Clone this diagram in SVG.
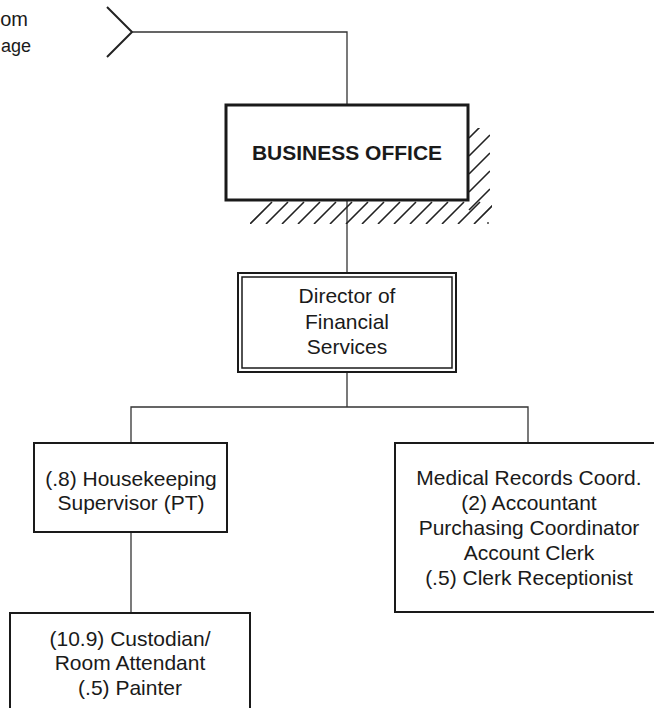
<svg xmlns="http://www.w3.org/2000/svg" width="654" height="708" viewBox="0 0 654 708">
<style>
text{font-family:"Liberation Sans",Arial,sans-serif;font-size:21px;fill:#1a1a1a;text-anchor:middle}
.box{fill:#fff;stroke:#1a1a1a;stroke-width:2}
.conn{fill:none;stroke:#333;stroke-width:1.3}
.hatch{fill:none;stroke:#222;stroke-width:1.6}
</style>
<defs>
<clipPath id="hclip">
<path d="M250,201 H490 V128 H469 V201 Z M250,201 V224 H492 V201 Z"/>
</clipPath>
</defs>
<rect width="654" height="708" fill="#fff"/>
<text x="28" y="26" style="text-anchor:end;font-size:20px">om</text>
<text x="1" y="52" style="text-anchor:start;font-size:18px">age</text>
<g id="connectors">
<path d="M107,7 L132,32 L107,57" fill="none" stroke="#222" stroke-width="2"/>
<path d="M132,32 H347 V105" class="conn" stroke-width="1.8"/>
<path d="M347,200 V273" class="conn"/>
<path d="M347,372 V407 M131,443 V407 H528 V443" class="conn"/>
<path d="M131,532 V613" class="conn"/>
</g>
<g id="hatching" clip-path="url(#hclip)">
<path class="hatch" d="M250,224 l22,-22 M266,224 l22,-22 M282,224 l22,-22 M298,224 l22,-22 M314,224 l22,-22 M330,224 l22,-22 M346,224 l22,-22 M362,224 l22,-22 M378,224 l22,-22 M394,224 l22,-22 M410,224 l22,-22 M426,224 l22,-22 M442,224 l22,-22 M458,224 l22,-22 M474,224 l20,-20 M469,210 l21,-21 M469,192 l21,-21 M469,174 l21,-21 M469,156 l21,-21 M469,138 l21,-21"/>
</g>
<circle cx="488" cy="223" r="1" fill="#444"/>
<g id="business-office">
<rect x="226" y="105" width="242" height="95" fill="#fff" stroke="#1a1a1a" stroke-width="3"/>
<text x="347" y="160" font-weight="bold">BUSINESS OFFICE</text>
</g>
<g id="director">
<rect class="box" x="238" y="273" width="218" height="99"/>
<rect x="242" y="277" width="210" height="91" fill="none" stroke="#1a1a1a" stroke-width="1.5"/>
<text x="347" y="303">Director of</text>
<text x="347" y="329">Financial</text>
<text x="347" y="354">Services</text>
</g>
<g id="housekeeping">
<rect class="box" x="34" y="443" width="193" height="89"/>
<text x="131" y="486">(.8) Housekeeping</text>
<text x="131" y="510">Supervisor (PT)</text>
</g>
<g id="medical">
<rect class="box" x="395" y="443" width="268" height="169"/>
<text x="529" y="485">Medical Records Coord.</text>
<text x="529" y="510">(2) Accountant</text>
<text x="529" y="535">Purchasing Coordinator</text>
<text x="529" y="560">Account Clerk</text>
<text x="529" y="585">(.5) Clerk Receptionist</text>
</g>
<g id="custodian">
<rect class="box" x="10" y="613" width="240" height="110"/>
<text x="130" y="646">(10.9) Custodian/</text>
<text x="130" y="670">Room Attendant</text>
<text x="130" y="695">(.5) Painter</text>
</g>
</svg>
